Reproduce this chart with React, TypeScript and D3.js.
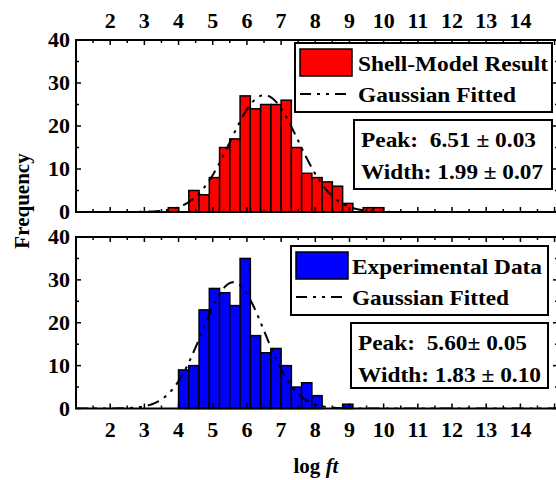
import React from "react";
import * as d3 from "d3";

const binStart = 3.7;
const binWidth = 0.3;
const shellCounts = [1, 0, 5, 4, 8, 15, 17, 27, 24, 25, 25, 26, 15, 9, 8, 7, 6, 2, 0, 1, 1];
const expCounts = [0, 9, 10, 23, 28, 27, 24, 35, 17, 13, 14, 10, 5, 6, 3, 0, 0, 1];
const xTickLabels = [2, 3, 4, 5, 6, 7, 8, 9, 10, 11, 12, 13, 14];
const yTicks = [0, 10, 20, 30, 40];
const shellFit = { peak: 6.51, width: 1.99 };
const expFit = { peak: 5.6, width: 1.83 };
const shellLegend = ["Shell-Model Result", "Gaussian Fitted"];
const expLegend = ["Experimental Data", "Gaussian Fitted"];
const shellStats = ["Peak:  6.51 \u00b1 0.03", "Width: 1.99 \u00b1 0.07"];
const expStats = ["Peak:  5.60\u00b1 0.05", "Width: 1.83 \u00b1 0.10"];

const W = 556, H = 480;
const FONT = "'Liberation Serif', 'Times New Roman', serif";
const X0 = 76, X1 = 558;
const x = d3.scaleLinear().domain([1, 15.1]).range([X0, X1]);
const DASH = "12,6,3,6,3,6";

function Panel({ counts, fit, color, top, bottom, legend, stats, showTopLabels, lg, st }: any) {
  const y = d3.scaleLinear().domain([0, 40]).range([bottom, top]);
  const area = d3.sum(counts) * binWidth;
  const gx = d3.range(1, 15.1, 0.02);
  const g = (v: number) => (area / (fit.width * Math.sqrt(Math.PI / 2))) * Math.exp((-2 * (v - fit.peak) ** 2) / (fit.width * fit.width));
  const line = d3.line<number>().x((v) => x(v)).y((v) => y(g(v)));
  const majorX = d3.range(1, 16, 1);
  const minorX = d3.range(1.5, 15.1, 1);
  const minorY = [5, 15, 25, 35];
  const clipId = "clip" + top;
  const T = { fontFamily: FONT, fontWeight: "bold" as const, fontSize: 22 };
  return (
    <g>
      <defs>
        <clipPath id={clipId}>
          <rect x={X0} y={top} width={X1 - X0} height={bottom - top} />
        </clipPath>
      </defs>
      {counts.map((c: number, i: number) =>
        c > 0 ? (
          <rect key={i} x={x(binStart + i * binWidth)} y={y(c)} width={x(binStart + (i + 1) * binWidth) - x(binStart + i * binWidth)} height={y(0) - y(c)} fill={color} stroke="#000" strokeWidth={1.5} />
        ) : null
      )}
      <path d={line(gx) || ""} fill="none" stroke="#000" strokeWidth={2} strokeDasharray={DASH} clipPath={`url(#${clipId})`} />
      {majorX.map((v) => (
        <g key={"mx" + v}>
          <line x1={x(v)} x2={x(v)} y1={bottom} y2={bottom - 5} stroke="#000" strokeWidth={1.5} />
          <line x1={x(v)} x2={x(v)} y1={top} y2={top + 5} stroke="#000" strokeWidth={1.5} />
        </g>
      ))}
      {minorX.map((v) => (
        <g key={"nx" + v}>
          <line x1={x(v)} x2={x(v)} y1={bottom} y2={bottom - 3} stroke="#000" strokeWidth={1.5} />
          <line x1={x(v)} x2={x(v)} y1={top} y2={top + 3} stroke="#000" strokeWidth={1.5} />
        </g>
      ))}
      {yTicks.map((v) => (
        <g key={"my" + v}>
          <line x1={X0} x2={X0 + 5} y1={y(v)} y2={y(v)} stroke="#000" strokeWidth={1.5} />
          <line x1={X1} x2={X1 - 5} y1={y(v)} y2={y(v)} stroke="#000" strokeWidth={1.5} />
          <text x={70} y={y(v) + 7} textAnchor="end" {...T}>{v}</text>
        </g>
      ))}
      {minorY.map((v) => (
        <g key={"ny" + v}>
          <line x1={X0} x2={X0 + 3} y1={y(v)} y2={y(v)} stroke="#000" strokeWidth={1.5} />
          <line x1={X1} x2={X1 - 3} y1={y(v)} y2={y(v)} stroke="#000" strokeWidth={1.5} />
        </g>
      ))}
      <rect x={X0} y={top} width={X1 - X0} height={bottom - top} fill="none" stroke="#000" strokeWidth={2} />
      {showTopLabels &&
        xTickLabels.map((v) => (
          <text key={"tl" + v} x={x(v)} y={28} textAnchor="middle" {...T}>{v}</text>
        ))}
      <rect x={lg.x} y={lg.y} width={lg.w} height={lg.h} fill="#fff" stroke="#000" strokeWidth={2} />
      <rect x={lg.x + 5} y={lg.y + 6} width={52} height={27} fill={color} stroke="#000" strokeWidth={1.5} />
      <text x={lg.tx} y={lg.y + 28} {...T} textLength={lg.l1} lengthAdjust="spacingAndGlyphs">{legend[0]}</text>
      <line x1={lg.x + 5} x2={lg.x + 57} y1={lg.y + 51} y2={lg.y + 51} stroke="#000" strokeWidth={2} strokeDasharray="11,6,3,6,3,6" />
      <text x={lg.tx} y={lg.y + 59} {...T} textLength={lg.l2} lengthAdjust="spacingAndGlyphs">{legend[1]}</text>
      <rect x={st.x} y={st.y} width={st.w} height={st.h} fill="#fff" stroke="#000" strokeWidth={2} />
      <text x={st.x + 7} y={st.y + 27} {...T} style={{ whiteSpace: "pre" }} textLength={st.l1} lengthAdjust="spacingAndGlyphs">{stats[0]}</text>
      <text x={st.x + 7} y={st.y + 59} {...T} style={{ whiteSpace: "pre" }} textLength={st.l2} lengthAdjust="spacingAndGlyphs">{stats[1]}</text>
    </g>
  );
}

export default function App() {
  return (
    <svg width={W} height={H} style={{ position: "absolute", left: 0, top: 0, background: "#fff" }}>
      <rect width={W} height={H} fill="#fff" />
      <Panel
        counts={shellCounts}
        fit={shellFit}
        color="#ff0000"
        top={40}
        bottom={212}
        legend={shellLegend}
        stats={shellStats}
        showTopLabels={true}
        lg={{ x: 295, y: 43, w: 257, h: 69, tx: 358, l1: 190, l2: 158 }}
        st={{ x: 354, y: 120, w: 198, h: 69, l1: 175, l2: 182 }}
      />
      <Panel
        counts={expCounts}
        fit={expFit}
        color="#0000ff"
        top={237}
        bottom={408.5}
        legend={expLegend}
        stats={expStats}
        showTopLabels={false}
        lg={{ x: 291, y: 246, w: 257, h: 69, tx: 352, l1: 190, l2: 157 }}
        st={{ x: 351, y: 323, w: 197, h: 65, l1: 169, l2: 183 }}
      />
      {xTickLabels.map((v) => (
        <text key={"bl" + v} x={x(v)} y={437} textAnchor="middle" fontFamily={FONT} fontWeight="bold" fontSize={22}>{v}</text>
      ))}
      <text x={316} y={473} textAnchor="middle" fontFamily={FONT} fontWeight="bold" fontSize={21}>
        log <tspan fontStyle="italic">ft</tspan>
      </text>
      <text transform="translate(29,201) rotate(-90)" textAnchor="middle" fontFamily={FONT} fontWeight="bold" fontSize={21}>Frequency</text>
    </svg>
  );
}
